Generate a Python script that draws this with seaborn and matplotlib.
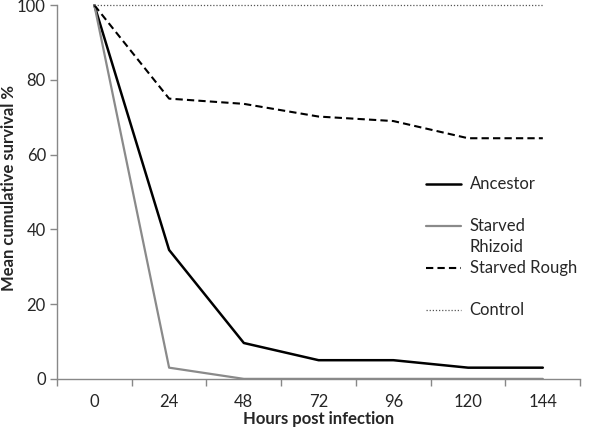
import matplotlib
matplotlib.use("Agg")
import matplotlib.pyplot as plt
import seaborn as sns
import pandas as pd
from matplotlib.lines import Line2D

hours = ["0", "24", "48", "72", "96", "120", "144"]
ancestor = [100, 34.5, 9.6, 5, 5, 3, 3]
starved_rhizoid = [100, 3, 0, 0, 0, 0, 0]
starved_rough = [100, 75, 73.6, 70.2, 69, 64.4, 64.4]
control = [100, 100, 100, 100, 100, 100, 100]

sns.set_style("white")
plt.rcParams['font.family'] = ['Lato', 'DejaVu Sans']

fig = plt.figure(figsize=(6, 4.34), dpi=100)
ax = fig.add_axes([0.095, 0.127, 0.872, 0.861])

pos = list(range(len(hours)))
series = [
    ("Ancestor", ancestor, dict(color="black", lw=1.8, ls="-")),
    ("Starved Rhizoid", starved_rhizoid, dict(color="#8a8a8a", lw=1.6, ls="-")),
    ("Starved Rough", starved_rough, dict(color="black", lw=1.5, ls=(0, (3.5, 2)))),
    ("Control", control, dict(color="#555555", lw=0.9, ls=(0, (1, 1.5)))),
]
handles = {}
for name, vals, st in series:
    df = pd.DataFrame({"x": pos, "y": vals})
    sns.lineplot(data=df, x="x", y="y", ax=ax, color=st["color"],
                 linewidth=st["lw"], linestyle=st["ls"], clip_on=False, zorder=3)
    handles[name] = Line2D([], [], color=st["color"], lw=st["lw"], ls=st["ls"])

ax.set_xlim(-0.5, len(hours) - 0.5)
ax.set_ylim(0, 100)
ax.set_yticks([0, 20, 40, 60, 80, 100])
ax.set_xticks(pos)
ax.set_xticklabels(hours)
ax.set_xticks([p - 0.5 for p in pos] + [len(hours) - 0.5], minor=True)
ax.tick_params(axis="x", which="major", length=0, labelsize=12, pad=11)
ax.tick_params(axis="x", which="minor", length=5, width=1, color="#888888", direction="out", bottom=True)
ax.tick_params(axis="y", which="major", length=5, width=1, color="#888888", direction="out", left=True, labelsize=12, pad=3)
for s in ["top", "right"]:
    ax.spines[s].set_visible(False)
for s in ["left", "bottom"]:
    ax.spines[s].set_color("#888888")
    ax.spines[s].set_linewidth(1)
ax.set_xlabel("Hours post infection", fontsize=12, fontweight="bold")
ax.xaxis.set_label_coords(0.5, -0.085)
ax.set_ylabel("Mean cumulative survival %", fontsize=12, fontweight="bold")
ax.yaxis.set_label_coords(-0.076, 0.51)

blank = Line2D([], [], color="none")
leg_h = [handles["Ancestor"], blank, handles["Starved Rhizoid"], blank,
         handles["Starved Rough"], blank, handles["Control"]]
leg_l = ["Ancestor", " ", "Starved", "Rhizoid", "Starved Rough", " ", "Control"]
ax.legend(leg_h, leg_l, loc="upper left", bbox_to_anchor=(0.69, 0.564), frameon=False,
          fontsize=12, handlelength=2.1, handletextpad=0.5, labelspacing=0.3, borderpad=0)

fig.savefig("out.png", dpi=100)
